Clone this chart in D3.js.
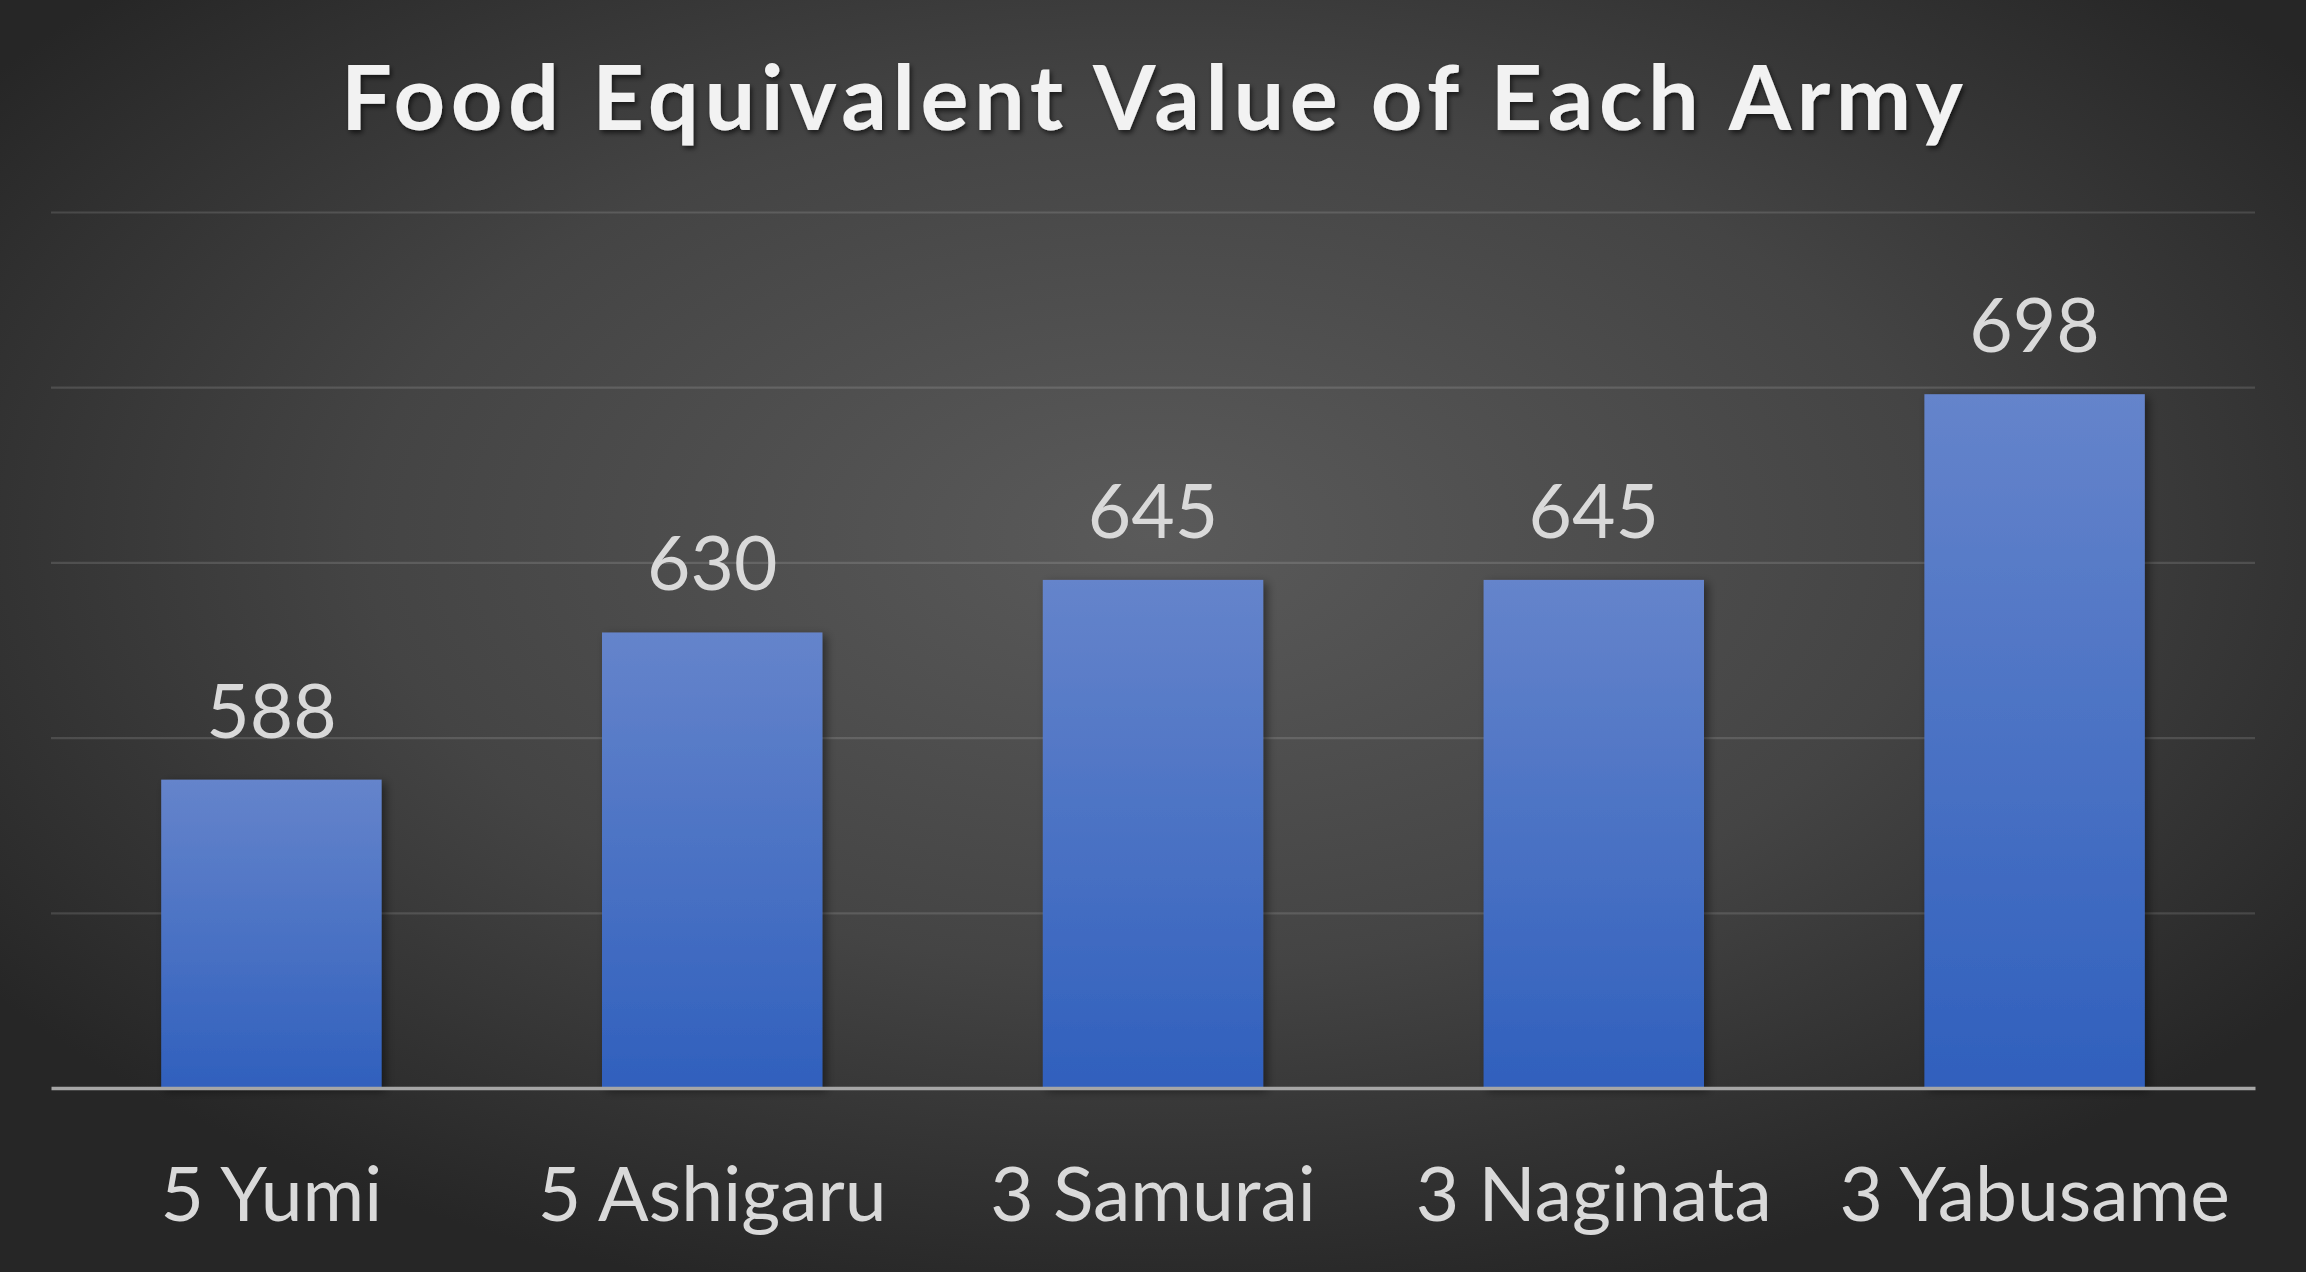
<!DOCTYPE html>
<html>
<head>
<meta charset="utf-8">
<script src="https://cdn.jsdelivr.net/npm/d3@7"></script>
<style>
  html, body { margin: 0; padding: 0; background: #2b2b2b; overflow: hidden; }
  svg { display: block; }
</style>
</head>
<body>
<script>
const categories = ["5 Yumi", "5 Ashigaru", "3 Samurai", "3 Naginata", "3 Yabusame"];
const values = [588, 630, 645, 645, 698];
const yTicks = [500, 550, 600, 650, 700, 750];
const title = "Food Equivalent Value of Each Army";

const W = 2306, H = 1272;
const margin = { left: 51, right: 51, top: 212, bottom: 184 };

const svg = d3.select("body").append("svg").attr("width", W).attr("height", H);
const defs = svg.append("defs");

const bg = defs.append("radialGradient").attr("id", "bg")
  .attr("cx", "50%").attr("cy", "42%").attr("r", "62%");
bg.append("stop").attr("offset", "0%").attr("stop-color", "#5a5a5a");
bg.append("stop").attr("offset", "55%").attr("stop-color", "#444444");
bg.append("stop").attr("offset", "100%").attr("stop-color", "#262626");

const barGrad = defs.append("linearGradient").attr("id", "barGrad")
  .attr("x1", 0).attr("y1", 0).attr("x2", 0).attr("y2", 1);
barGrad.append("stop").attr("offset", "0%").attr("stop-color", "#6584cb");
barGrad.append("stop").attr("offset", "100%").attr("stop-color", "#3060bd");

const shadow = defs.append("filter").attr("id", "shadow")
  .attr("x", "-10%").attr("y", "-10%").attr("width", "130%").attr("height", "130%");
shadow.append("feDropShadow").attr("dx", 4).attr("dy", 3).attr("stdDeviation", 5)
  .attr("flood-color", "#000").attr("flood-opacity", 0.45);

const tshadow = defs.append("filter").attr("id", "tshadow")
  .attr("x", "-5%").attr("y", "-20%").attr("width", "110%").attr("height", "150%");
tshadow.append("feDropShadow").attr("dx", 2).attr("dy", 3).attr("stdDeviation", 2.5)
  .attr("flood-color", "#000").attr("flood-opacity", 0.6);

svg.append("rect").attr("width", W).attr("height", H).attr("fill", "url(#bg)");

const x = d3.scaleBand().domain(categories)
  .range([margin.left, W - margin.right]).paddingInner(0.5).paddingOuter(0.25);
const y = d3.scaleLinear().domain([500, 750]).range([H - margin.bottom, margin.top]);

// gridlines
const grid = svg.append("g")
  .attr("transform", `translate(${margin.left},0)`)
  .call(d3.axisLeft(y).tickValues(yTicks.slice(1)).tickSize(-(W - margin.left - margin.right)).tickFormat(""));
grid.select(".domain").remove();
grid.selectAll(".tick line").attr("stroke", "#ffffff").attr("stroke-opacity", 0.13).attr("stroke-width", 2.2);

// bars
svg.append("g").selectAll("rect").data(values).join("rect")
  .attr("x", (d, i) => x(categories[i]))
  .attr("y", d => y(d))
  .attr("width", x.bandwidth())
  .attr("height", d => y(500) - y(d))
  .attr("fill", "url(#barGrad)")
  .attr("filter", "url(#shadow)");

// baseline / x axis
const xAxis = svg.append("g")
  .attr("transform", `translate(0,${y(500)})`)
  .call(d3.axisBottom(x).tickSize(0).tickPadding(0));
xAxis.select(".domain").attr("stroke", "#a6a6a6").attr("stroke-width", 3.5);
xAxis.selectAll(".tick text")
  .attr("dy", 0).attr("y", 133)
  .attr("font-family", "Lato, 'Open Sans', sans-serif")
  .attr("font-size", 75)
  .attr("fill", "#d9d9d9");

// value labels
svg.append("g").selectAll("text").data(values).join("text")
  .attr("x", (d, i) => x(categories[i]) + x.bandwidth() / 2)
  .attr("y", d => y(d) - 42)
  .attr("text-anchor", "middle")
  .attr("font-family", "Lato, 'Open Sans', sans-serif")
  .attr("font-size", 75)
  .attr("fill", "#d9d9d9")
  .text(d => d);

// title
svg.append("text")
  .attr("x", 1152).attr("y", 130)
  .attr("text-anchor", "middle")
  .attr("font-family", "Lato, 'Open Sans', sans-serif")
  .attr("font-weight", 700)
  .attr("font-size", 90)
  .attr("fill", "#f2f2f2")
  .attr("textLength", 1622)
  .attr("lengthAdjust", "spacing")
  .attr("filter", "url(#tshadow)")
  .text(title);
</script>
</body>
</html>
